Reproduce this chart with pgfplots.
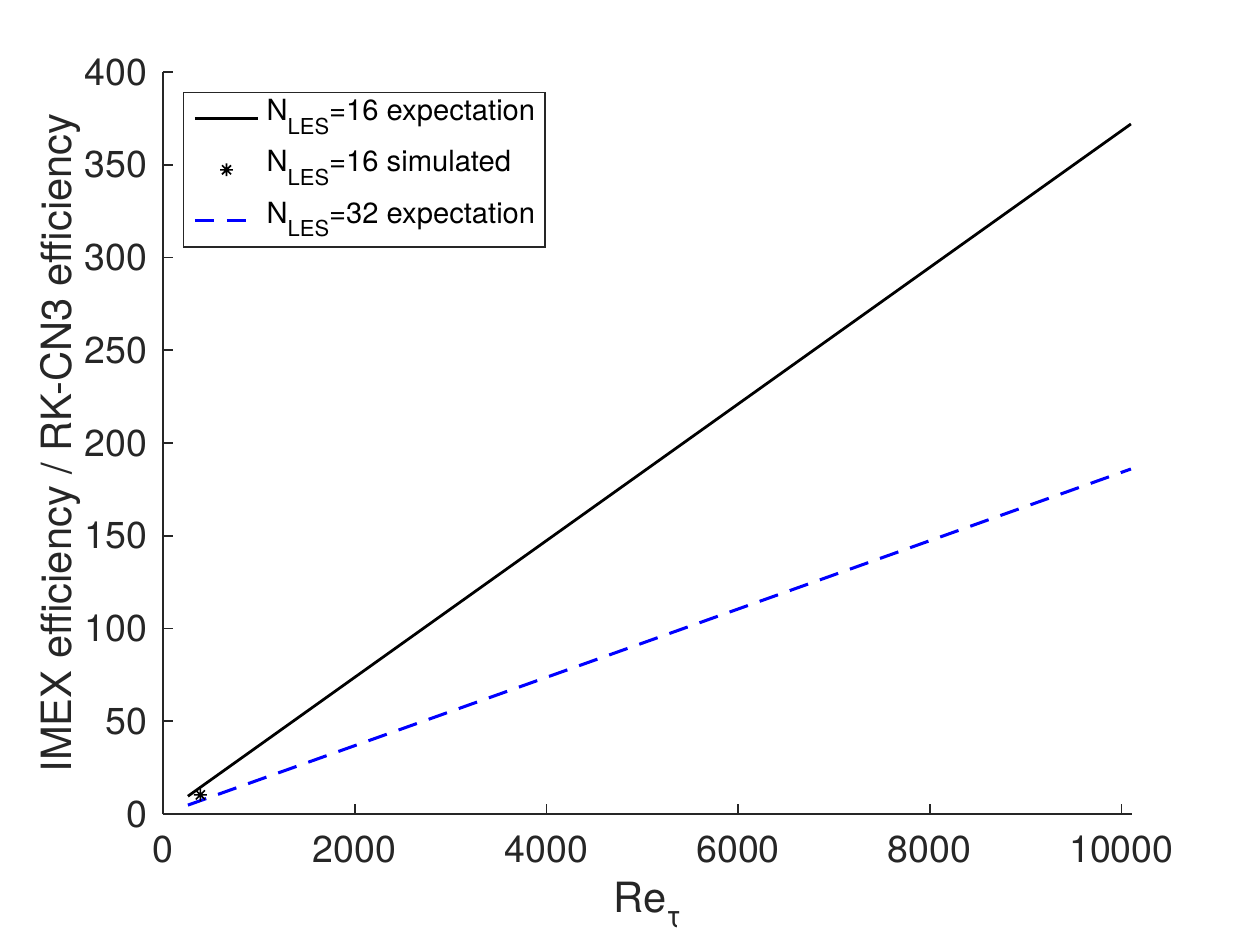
\documentclass[border=0pt]{standalone}
\usepackage{fontspec}
\setmainfont{TeX Gyre Heros}
\usepackage{pgfplots}
\pgfplotsset{compat=1.18}
\definecolor{axgray}{HTML}{262626}
\definecolor{mblue}{RGB}{0,0,255}
\pgfdeclareplotmark{matstar}{%
  \pgfpathmoveto{\pgfqpoint{-\pgfplotmarksize}{0pt}}\pgfpathlineto{\pgfqpoint{\pgfplotmarksize}{0pt}}%
  \pgfpathmoveto{\pgfqpoint{0pt}{-\pgfplotmarksize}}\pgfpathlineto{\pgfqpoint{0pt}{\pgfplotmarksize}}%
  \pgfpathmoveto{\pgfqpoint{-.707\pgfplotmarksize}{-.707\pgfplotmarksize}}\pgfpathlineto{\pgfqpoint{.707\pgfplotmarksize}{.707\pgfplotmarksize}}%
  \pgfpathmoveto{\pgfqpoint{-.707\pgfplotmarksize}{.707\pgfplotmarksize}}\pgfpathlineto{\pgfqpoint{.707\pgfplotmarksize}{-.707\pgfplotmarksize}}%
  \pgfusepathqstroke}
\newcommand\NL{N\raisebox{-5pt}{\fontsize{7.9}{9}\selectfont LES}}
\begin{document}
\begin{tikzpicture}
\useasboundingbox (-58.68pt,-44.64pt) rectangle (391.32pt,293.04pt);
\begin{axis}[
  at={(0pt,0pt)}, anchor=south west,
  scale only axis, width=348.8pt, height=267.1pt,
  xmin=0, xmax=10110, ymin=0, ymax=400,
  axis x line*=bottom, axis y line*=left,
  axis line style={axgray, line width=0.6pt, -},
  tick align=inside, tick style={axgray, line width=0.6pt},
  major tick length=3.6pt,
  xtick={0,2000,4000,6000,8000,10000},
  ytick={0,50,100,150,200,250,300,350,400},
  scaled x ticks=false,
  /pgf/number format/assume math mode=true,
  /pgf/number format/1000 sep={},
  ticklabel style={font=\fontsize{13.5}{16}\selectfont, text=axgray},
  xticklabel style={inner sep=0pt, anchor=north, yshift=-7.6pt},
  yticklabel style={inner sep=0pt, anchor=east, xshift=-5.4pt},
  xlabel={Re\raisebox{-5.5pt}{\fontsize{11}{13}\selectfont τ}},
  ylabel={IMEX efficiency / RK-CN3 efficiency},
  label style={font=\fontsize{15}{18}\selectfont, text=axgray},
  xlabel style={at={(axis description cs:0.5,0)}, anchor=base, yshift=-35.3pt, inner sep=0pt},
  ylabel style={at={(axis description cs:0,0.5)}, anchor=base, yshift=32.8pt, inner sep=0pt},
  legend cell align=left,
  legend image code/.code={\draw[mark repeat=2,mark phase=2,#1] plot coordinates {(0cm,0cm) (0.4cm,0cm) (0.8cm,0cm)};},
  legend style={at={(axis description cs:0,1)}, anchor=north west, xshift=7.2pt, yshift=-7.2pt,
    draw=axgray, line width=0.5pt, inner xsep=3.5pt, inner ysep=3.6pt,
    font=\fontsize{10.5}{12}\selectfont,
    nodes={inner sep=0pt, text height=6.5pt, text depth=5pt},
    row sep=6.9pt, column sep=2.5pt},
]
\addplot[black, line width=1pt] coordinates {(260,9.6) (10100,372)};
\addlegendentry{\NL=16 expectation}
\addplot[black, only marks, mark=matstar, mark size=2.3pt, line width=0.6pt] coordinates {(390,10.3)};
\addlegendentry{\NL=16 simulated}
\addplot[mblue, line width=1.1pt, dash pattern=on 7pt off 4.5pt] coordinates {(260,4.8) (10100,186)};
\addlegendentry{\NL=32 expectation}
\end{axis}
\end{tikzpicture}
\end{document}
